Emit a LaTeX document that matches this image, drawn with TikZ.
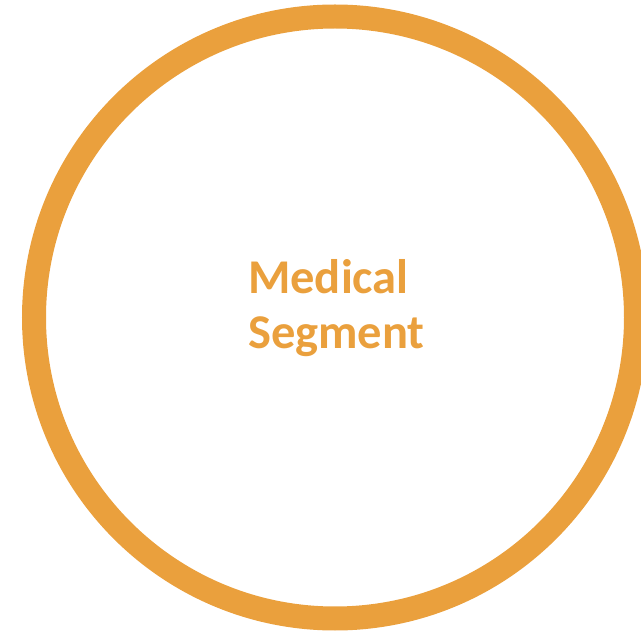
\documentclass[tikz,border=0pt]{standalone}
\usepackage{fontspec}
\setmainfont{Carlito}
\definecolor{ringorange}{HTML}{EAA03D}
\begin{document}
\begin{tikzpicture}[x=1pt,y=1pt,
  ring/.style={draw=ringorange,line width=24pt},
  label/.style={text=ringorange,font=\bfseries\fontsize{48.5}{55}\selectfont,align=left,inner sep=0pt}]
  \useasboundingbox (0,0) rectangle (641,633);
  \node[circle,ring,minimum size=602pt,inner sep=0pt,outer sep=0pt] (segment) at (335,315.5) {};
  \node[label,anchor=base west] (title) at (248,284.5) {Medical\\Segment};
\end{tikzpicture}
\end{document}
